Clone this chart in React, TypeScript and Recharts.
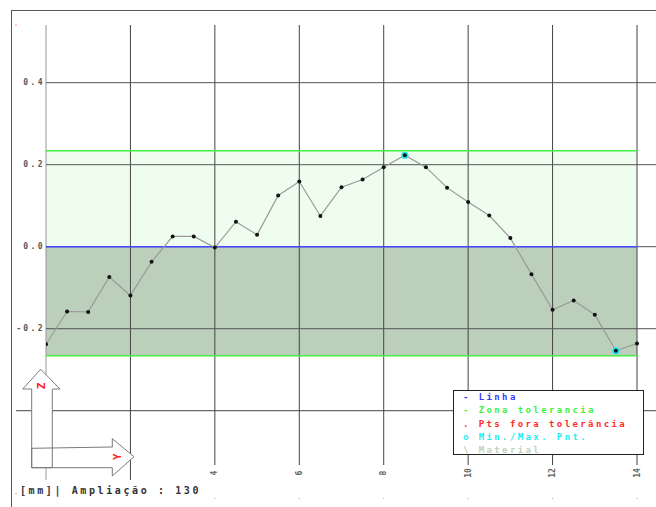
import { ComposedChart, Line, XAxis, YAxis, ReferenceLine, ReferenceArea } from "recharts"

// measuring positions along Y [mm] and deviation in Z [mm]
const positions = [
  0, 0.5, 1, 1.5, 2, 2.5, 3, 3.5, 4, 4.5, 5, 5.5, 6, 6.5, 7, 7.5, 8, 8.5, 9, 9.5, 10, 10.5, 11, 11.5, 12,
  12.5, 13, 13.5, 14,
]
const deviation = [
  -0.238, -0.158, -0.159, -0.074, -0.119, -0.037, 0.025, 0.025, -0.002, 0.061, 0.029, 0.125, 0.159, 0.075,
  0.145, 0.164, 0.194, 0.223, 0.194, 0.144, 0.109, 0.076, 0.021, -0.067, -0.154, -0.131, -0.166, -0.254,
  -0.236,
]

const tolUpper = 0.234
const tolLower = -0.266
const nominal = 0

const xGrid = [0, 2, 4, 6, 8, 10, 12, 14]
const xTicks = [4, 6, 8, 10, 12, 14]
const yGrid = [0.4, 0.2, 0, -0.2]
const yTicks = [-0.2, 0, 0.2, 0.4]
const yTickLabels = ["-0.2", "0.0", "0.2", "0.4"]

const legendItems = [
  { mark: "-", text: "Linha", color: "#3a3aff" },
  { mark: "-", text: "Zona tolerancia", color: "#3fef3f" },
  { mark: ".", text: "Pts fora tolerância", color: "#ff2a2a" },
  { mark: "o", text: "Min./Max. Pnt.", color: "#22eef0" },
  { mark: "\\", text: "Material", color: "#bfd2bf" },
]

const data = positions.map((x, i) => ({ x, z: deviation[i] }))
const zMax = Math.max(...deviation)
const zMin = Math.min(...deviation)

const X_DOMAIN: [number, number] = [0, 14.45]
const X_LEFT = -0.71
const Y_DOMAIN: [number, number] = [-0.5324, 0.5407]
const mono = "'DejaVu Sans Mono', monospace"

const XTick = (props: any) => {
  const { x, y, payload } = props
  return (
    <g>
      <text
        transform={`translate(${x},${y + 8}) rotate(-90)`}
        textAnchor="middle"
        dominantBaseline="central"
        fontFamily={mono}
        fontWeight="bold"
        fontSize={8}
        fill="#666"
      >
        {payload.value}
      </text>
      <rect x={x - 0.5} y={y + 33} width={1} height={1} fill="#aaa" />
    </g>
  )
}

const YTick = (props: any) => {
  const { y, payload } = props
  const i = yTicks.indexOf(payload.value)
  return (
    <text
      x={45}
      y={y}
      textAnchor="end"
      dominantBaseline="central"
      fontFamily={mono}
      fontWeight="bold"
      fontSize={8}
      letterSpacing={2.4}
      fill="#555"
    >
      {yTickLabels[i]}
    </text>
  )
}

const PointDot = (props: any) => {
  const { cx, cy, payload, index } = props
  const extreme = payload.z === zMax || payload.z === zMin
  return (
    <g key={`pt-${index}`}>
      {extreme && <circle cx={cx} cy={cy} r={3.6} fill="#19e6ee" />}
      <circle cx={cx} cy={cy} r={2} fill="#111" />
    </g>
  )
}

export default function ProfileDeviationChart() {
  return (
    <div style={{ position: "absolute", left: 0, top: 0, width: 656, height: 507, background: "#fff" }}>
      <ComposedChart width={656} height={507} data={data} margin={{ top: 25, right: 0, bottom: 0, left: 0 }}>
        <XAxis
          dataKey="x"
          type="number"
          domain={X_DOMAIN}
          ticks={xTicks}
          allowDataOverflow
          axisLine={false}
          tickLine={false}
          tickSize={0}
          tickMargin={0}
          height={42}
          tick={<XTick />}
        />
        <YAxis
          type="number"
          domain={Y_DOMAIN}
          ticks={yTicks}
          allowDataOverflow
          width={46}
          axisLine={false}
          tickLine={false}
          tick={<YTick />}
        />

        {/* tolerance band: above nominal is free, below is material */}
        <ReferenceArea x1={0} x2={14} y1={nominal} y2={tolUpper} fill="#effdef" fillOpacity={1} stroke="none" />
        <ReferenceArea x1={0} x2={14} y1={tolLower} y2={nominal} fill="#bbcfbb" fillOpacity={1} stroke="none" />

        {/* grid */}
        {xGrid.map((gx) => (
          <ReferenceLine
            key={`gx-${gx}`}
            segment={[
              { x: gx, y: Y_DOMAIN[1] },
              { x: gx, y: gx < 4 ? -0.569 : Y_DOMAIN[0] },
            ]}
            ifOverflow="visible"
            stroke={gx === 0 ? "#999" : "#444"}
            strokeWidth={1}
          />
        ))}
        {yGrid.map((gy) => (
          <ReferenceLine
            key={`gy-${gy}`}
            segment={[
              { x: 0, y: gy },
              { x: X_DOMAIN[1], y: gy },
            ]}
            ifOverflow="visible"
            stroke="#555"
            strokeWidth={1}
          />
        ))}
        <ReferenceLine
          segment={[
            { x: X_LEFT, y: -0.4 },
            { x: X_DOMAIN[1], y: -0.4 },
          ]}
          ifOverflow="visible"
          stroke="#444"
          strokeWidth={1}
        />

        {/* tolerance limits and nominal line */}
        <ReferenceLine
          segment={[
            { x: 0, y: tolUpper },
            { x: 14, y: tolUpper },
          ]}
          stroke="#44ee44"
          strokeWidth={1.3}
        />
        <ReferenceLine
          segment={[
            { x: 0, y: tolLower },
            { x: 14, y: tolLower },
          ]}
          stroke="#44ee44"
          strokeWidth={1.3}
        />
        <ReferenceLine
          segment={[
            { x: 0, y: nominal },
            { x: 14, y: nominal },
          ]}
          stroke="#4646ff"
          strokeWidth={1.5}
        />

        <Line
          type="linear"
          dataKey="z"
          stroke="#9a9a9a"
          strokeWidth={1.2}
          dot={<PointDot />}
          activeDot={false}
          isAnimationActive={false}
        />
      </ComposedChart>

      {/* frame, axis orientation symbol and small markers */}
      <svg width={656} height={507} style={{ position: "absolute", left: 0, top: 0, pointerEvents: "none" }}>
        <line x1={11.5} y1={10} x2={11.5} y2={507} stroke="#555" />
        <line x1={11} y1={10.5} x2={656} y2={10.5} stroke="#555" />
        <rect x={15.5} y={24.5} width={1} height={1} fill="#f33" />
        <rect x={15.5} y={493} width={1} height={1} fill="#888" />

        <polygon
          points="31.7,448.3 112.3,447 112.3,438.7 134,456.7 112.3,476 112.3,467.7 31.7,467.7"
          fill="#fff"
          stroke="none"
        />
        <polygon
          points="31.7,467.7 31.7,389 22.7,389 40.7,369.3 60,389 52.3,389 52.3,467.7"
          fill="#fff"
          stroke="none"
        />
        <polygon
          points="31.7,448.3 112.3,447 112.3,438.7 134,456.7 112.3,476 112.3,467.7 31.7,467.7"
          fill="none"
          stroke="#7a7a7a"
        />
        <polygon
          points="31.7,467.7 31.7,389 22.7,389 40.7,369.3 60,389 52.3,389 52.3,467.7"
          fill="none"
          stroke="#7a7a7a"
        />
        <text
          transform="translate(41,386) rotate(-90)"
          textAnchor="middle"
          dominantBaseline="central"
          fontFamily={mono}
          fontWeight="bold"
          fontSize={11}
          fill="#f22"
        >
          Z
        </text>
        <text
          transform="translate(117.5,456.7) rotate(-90)"
          textAnchor="middle"
          dominantBaseline="central"
          fontFamily={mono}
          fontWeight="bold"
          fontSize={11}
          fill="#f22"
        >
          Y
        </text>
      </svg>

      <div
        style={{
          position: "absolute",
          left: 453,
          top: 390,
          width: 191,
          height: 65,
          boxSizing: "border-box",
          border: "1px solid #222",
          background: "#fff",
          padding: "0 0 0 9px",
          fontFamily: mono,
          fontWeight: "bold",
          fontSize: 9,
          letterSpacing: 2.4,
          lineHeight: "13.3px",
          whiteSpace: "pre",
        }}
      >
        {legendItems.map((it) => (
          <div key={it.text} style={{ color: it.color }}>
            {`${it.mark} ${it.text}`}
          </div>
        ))}
      </div>

      <div
        style={{
          position: "absolute",
          left: 20,
          top: 484,
          fontFamily: mono,
          fontWeight: "bold",
          fontSize: 10,
          letterSpacing: 2.6,
          lineHeight: "14px",
          color: "#333",
          whiteSpace: "pre",
        }}
      >
        [mm]| Ampliação : 130
      </div>
    </div>
  )
}
